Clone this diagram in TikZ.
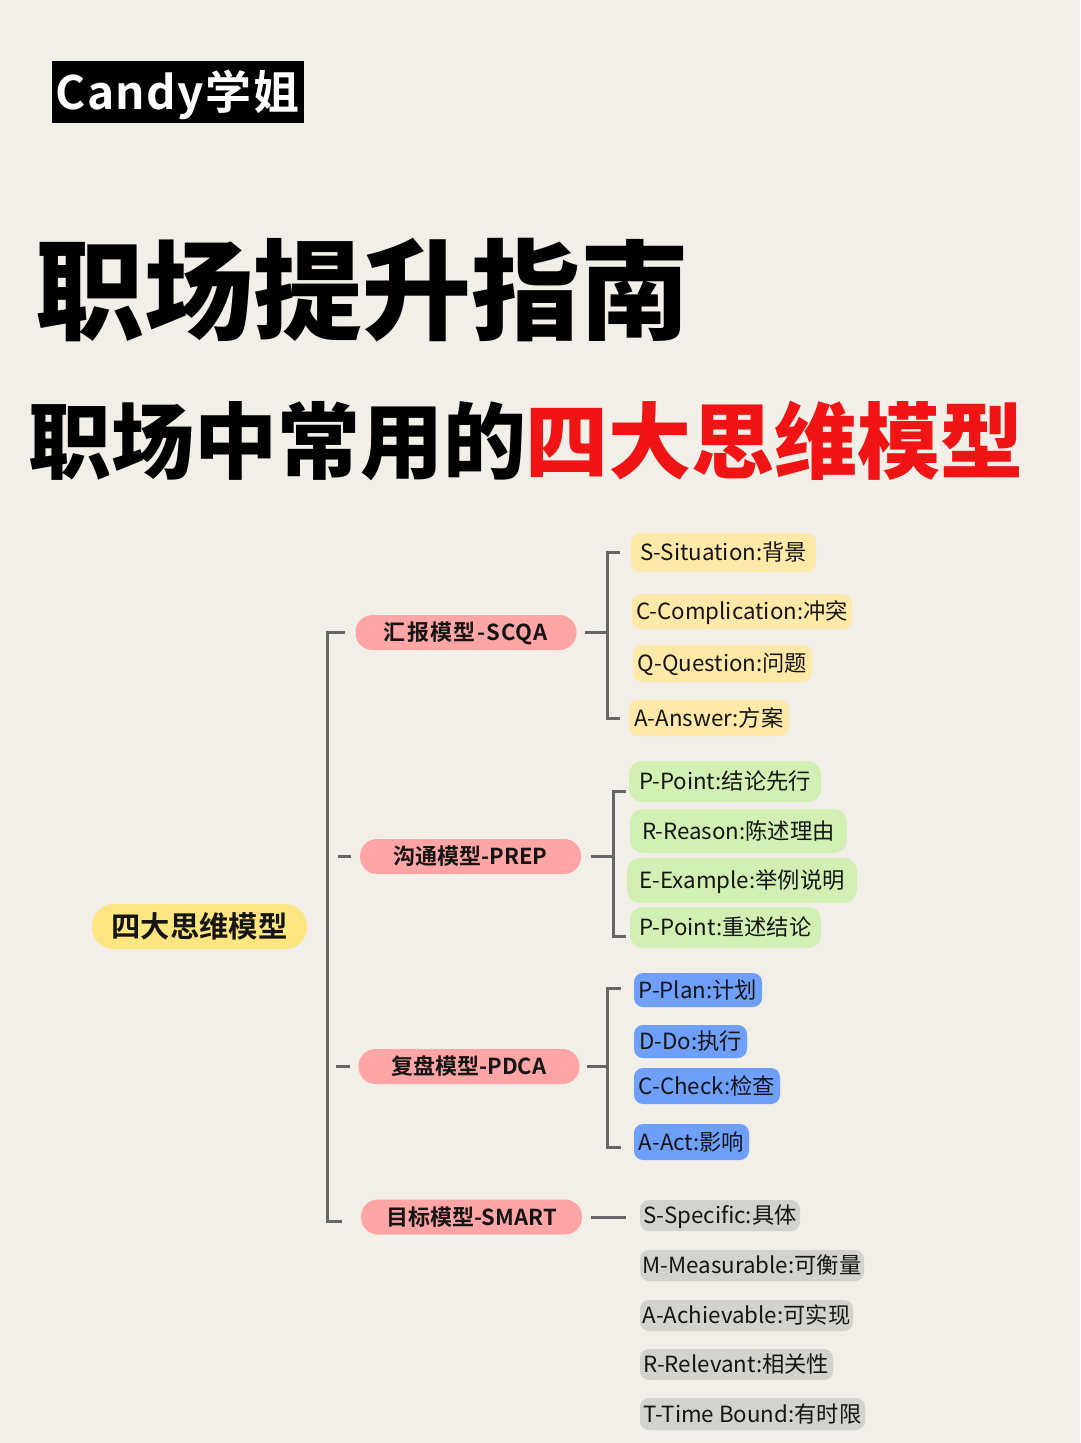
\documentclass[tikz,border=0pt]{standalone}
\usepackage{fontspec}
\setmainfont{Noto Sans CJK SC}[BoldFont={Noto Sans CJK SC Bold}]
\newfontfamily\heavyfont{Noto Sans CJK SC Black}
\newfontfamily\brandfont{Noto Sans CJK SC Bold}[LetterSpace=3]
\newcommand{\fsize}[1]{\fontsize{#1}{#1}\selectfont}
\definecolor{paper}{HTML}{F1EFE8}
\definecolor{rootfill}{HTML}{FFE680}
\definecolor{modelfill}{HTML}{FFA5A5}
\definecolor{yellowfill}{HTML}{FFE9A8}
\definecolor{greenfill}{HTML}{D3F0B4}
\definecolor{bluefill}{HTML}{6E9FFA}
\definecolor{greyfill}{HTML}{D3D2CD}
\definecolor{linkgrey}{HTML}{666666}
\definecolor{titlered}{HTML}{F01414}
\definecolor{ink}{HTML}{151515}
\begin{document}
\begin{tikzpicture}[x=1pt,y=-1pt]
\tikzset{rootnode/.style={fill=rootfill, rounded corners=22pt, inner sep=0pt, text=ink, font=\fsize{29.3}\bfseries},
  modelnode/.style={fill=modelfill, rounded corners=17pt, inner sep=0pt, minimum width=221pt, minimum height=35pt, text height=20pt, text depth=4pt, text=ink, font=\fsize{22}\bfseries},
  leafnode/.style={rounded corners=9pt, inner sep=0pt, text height=19pt, text depth=3pt, text=ink, font=\fsize{22.3}},
  yellowleaf/.style={leafnode, fill=yellowfill},
  greenleaf/.style={leafnode, fill=greenfill, rounded corners=13pt},
  blueleaf/.style={leafnode, fill=bluefill},
  greyleaf/.style={leafnode, fill=greyfill},
  link/.style={draw=linkgrey, line width=3pt}}
\fill[paper] (0,0) rectangle (1080,1443);
\node[fill=black, text=white, inner sep=0pt, minimum width=252pt, minimum height=62pt, text height=41pt, text depth=6pt, font=\fsize{46}\brandfont] (Brand) at (177.5,92) {Candy学姐};
\node[font=\fsize{109}\heavyfont, text=black, inner sep=0pt] (Title) at (362.5,290) {职场提升指南};
\node[font=\fsize{83}\heavyfont, text=black, inner sep=0pt] (Subtitle) at (526,441) {职场中常用的\textcolor{titlered}{四大思维模型}};
\node[rootnode, minimum width=215pt, minimum height=45pt] (Root) at (199.5,926.5) {四大思维模型};
\node[modelnode] (M1) at (466,632.5) {\addfontfeature{LetterSpace=6}汇报模型-SCQA};
\node[modelnode] (M2) at (470.5,856.5) {沟通模型-PREP};
\node[modelnode] (M3) at (469,1066.5) {复盘模型-PDCA};
\node[modelnode] (M4) at (471.5,1217) {目标模型-SMART};
\node[yellowleaf, minimum width=185pt, minimum height=39pt] (S1) at (723.5,552.5) {S-Situation:背景};
\node[yellowleaf, minimum width=220pt, minimum height=35pt] (S2) at (742,611.5) {C-Complication:冲突};
\node[yellowleaf, minimum width=179pt, minimum height=37pt] (S3) at (722.5,663.5) {Q-Question:问题};
\node[yellowleaf, minimum width=160pt, minimum height=36pt] (S4) at (709,718) {A-Answer:方案};
\node[greenleaf, minimum width=192pt, minimum height=41pt] (P1) at (725,781.5) {P-Point:结论先行};
\node[greenleaf, minimum width=217pt, minimum height=44pt] (P2) at (738.5,831) {R-Reason:陈述理由};
\node[greenleaf, minimum width=230pt, minimum height=45pt] (P3) at (742,880.5) {E-Example:举例说明};
\node[greenleaf, minimum width=191pt, minimum height=41pt] (P4) at (725.5,927.5) {P-Point:重述结论};
\node[blueleaf, minimum width=128pt, minimum height=34pt] (D1) at (698,990) {P-Plan:计划};
\node[blueleaf, minimum width=113pt, minimum height=33pt] (D2) at (690.5,1041.5) {D-Do:执行};
\node[blueleaf, minimum width=146pt, minimum height=36pt] (D3) at (707,1086) {C-Check:检查};
\node[blueleaf, minimum width=115pt, minimum height=36pt] (D4) at (691.5,1142) {A-Act:影响};
\node[greyleaf, minimum width=160pt, minimum height=31pt] (T1) at (720,1215.5) {S-Specific:具体};
\node[greyleaf, minimum width=224pt, minimum height=31pt] (T2) at (752,1265.5) {M-Measurable:可衡量};
\node[greyleaf, minimum width=213pt, minimum height=31pt] (T3) at (746.5,1315.5) {A-Achievable:可实现};
\node[greyleaf, minimum width=193pt, minimum height=31pt] (T4) at (736.5,1364.5) {R-Relevant:相关性};
\node[greyleaf, minimum width=225pt, minimum height=32pt] (T5) at (752.5,1414) {T-Time Bound:有时限};
\coordinate (Trunk) at (327.5,900);
\coordinate (M4end) at (342,1221);
\coordinate (Bus1) at (607,632);
\coordinate (Bus2) at (613,857);
\coordinate (Bus3) at (607,1067);
\coordinate (P1end) at (626,791);
\coordinate (P4end) at (626,936);
\coordinate (D1end) at (621,988);
\coordinate (D4end) at (621,1147);
\draw[link, shorten <=10pt] (M1.west) -| (Trunk) |- (M4end);
\draw[link, shorten <=10pt, shorten >=9pt] (Trunk |- M2) -- (M2.west);
\draw[link, shorten <=8pt, shorten >=8pt] (Trunk |- M3) -- (M3.west);
\draw[link, shorten <=8pt] (M1.east) -- (Bus1 |- M1);
\draw[link, shorten <=11pt, shorten >=9pt] (S1.west) -| (Bus1) |- (S4.west);
\draw[link, shorten <=10pt] (M2.east) -- (Bus2 |- M2);
\draw[link] (P1end) -| (Bus2) |- (P4end);
\draw[link, shorten <=7pt] (M3.east) -- (Bus3 |- M3);
\draw[link] (D1end) -| (Bus3) |- (D4end);
\draw[link, shorten <=9pt, shorten >=14pt] (M4.east) -- (T1.west |- M4);
\end{tikzpicture}
\end{document}
